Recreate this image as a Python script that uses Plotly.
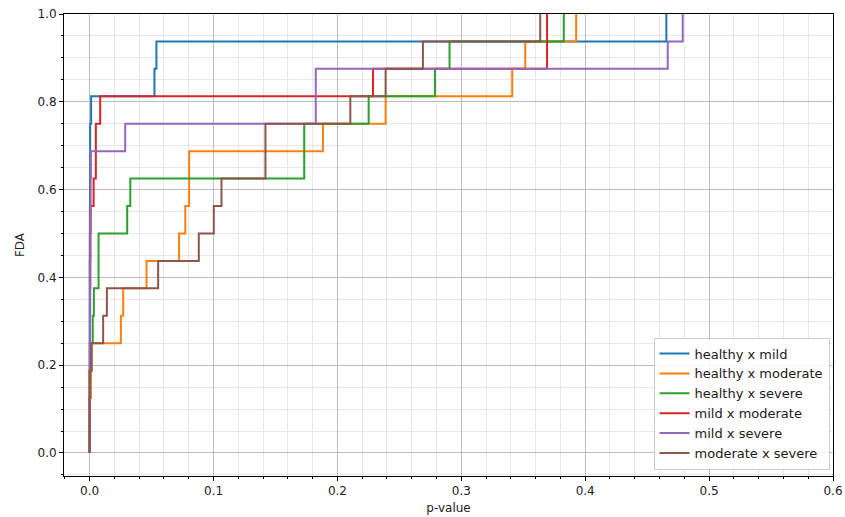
import numpy as np
import plotly.graph_objects as go

# sorted p-values per comparison (16 each)
series_names = ["healthy x mild", "healthy x moderate", "healthy x severe",
                "mild x moderate", "mild x severe", "moderate x severe"]

p_healthy_mild = [0.0, 0.0, 0.0, 0.0, 0.0, 0.0, 0.0, 0.0001, 0.0002, 0.0003,
                  0.0004, 0.0004, 0.0012, 0.0523, 0.0539, 0.4655]
p_healthy_moderate = [0.0, 0.0, 0.0010, 0.0015, 0.0252, 0.0271, 0.0459, 0.0722,
                      0.0772, 0.0803, 0.0803, 0.1883, 0.2389, 0.3411, 0.3516, 0.3927]
p_healthy_severe = [0.0, 0.0002, 0.0005, 0.0010, 0.0025, 0.0034, 0.0072, 0.0072,
                    0.0303, 0.0328, 0.1732, 0.1732, 0.2252, 0.2787, 0.2905, 0.3827]
p_mild_moderate = [0.0, 0.0, 0.0001, 0.0002, 0.0003, 0.0004, 0.0005, 0.0006,
                   0.0008, 0.0032, 0.0050, 0.0050, 0.0085, 0.2287, 0.3692, 0.3692]
p_mild_severe = [0.0, 0.0, 0.0001, 0.0002, 0.0003, 0.0003, 0.0004, 0.0005,
                 0.0006, 0.0008, 0.0010, 0.0287, 0.1825, 0.1825, 0.4666, 0.4787]
p_moderate_severe = [0.0, 0.0, 0.0, 0.0016, 0.0109, 0.0139, 0.0553, 0.0881,
                     0.1002, 0.1064, 0.1419, 0.1419, 0.2104, 0.2389, 0.2690, 0.3637]

all_p = [p_healthy_mild, p_healthy_moderate, p_healthy_severe,
         p_mild_moderate, p_mild_severe, p_moderate_severe]
colors = ["#1f77b4", "#ff7f0e", "#2ca02c", "#d62728", "#9467bd", "#8c564b"]

x_ticks = [0.0, 0.1, 0.2, 0.3, 0.4, 0.5, 0.6]
y_ticks = [0.0, 0.2, 0.4, 0.6, 0.8, 1.0]

fig = go.Figure()
for name, p, c in zip(series_names, all_p, colors):
    n = len(p)
    xs = [0.0] + list(p)
    ys = list(np.arange(0, n + 1) / n)
    fig.add_trace(go.Scatter(x=xs, y=ys, mode="lines", name=name,
                             line=dict(color=c, width=2, shape="hv")))

font = dict(family="DejaVu Sans", size=12, color="#222222")
axis_common = dict(showline=True, linecolor="black", linewidth=1, mirror=True,
                   ticks="outside", ticklen=4, tickcolor="black",
                   showgrid=True, gridcolor="#bdbdbd", gridwidth=1,
                   zeroline=False, tickfont=font, automargin=False)

fig.update_layout(
    width=845, height=517,
    margin=dict(l=64, r=12, t=14, b=41),
    plot_bgcolor="white", paper_bgcolor="white",
    font=font,
    showlegend=True,
    legend=dict(x=0.9955, y=0.014, xanchor="right", yanchor="bottom",
                bgcolor="rgba(255,255,255,0.9)", bordercolor="#cccccc",
                borderwidth=1, font=dict(family="DejaVu Sans", size=13, color="#1a1a1a"),
                tracegroupgap=0),
)
fig.update_xaxes(range=[-0.0207, 0.6], tickvals=x_ticks,
                 ticktext=[f"{v:.1f}" for v in x_ticks],
                 minor=dict(dtick=0.02, tick0=0, showgrid=True, gridcolor="#e8e8e8",
                            ticks="outside", ticklen=2, tickcolor="black"),
                 title=dict(text="p-value", font=font, standoff=6),
                 **axis_common)
fig.update_yaxes(range=[-0.0525, 1.0], tickvals=y_ticks,
                 ticktext=[f"{v:.1f}" for v in y_ticks],
                 minor=dict(dtick=0.05, tick0=0, showgrid=True, gridcolor="#e8e8e8",
                            ticks="outside", ticklen=2, tickcolor="black"),
                 title=dict(text="FDA", font=font, standoff=10),
                 **axis_common)

fig.write_html("out.html")
